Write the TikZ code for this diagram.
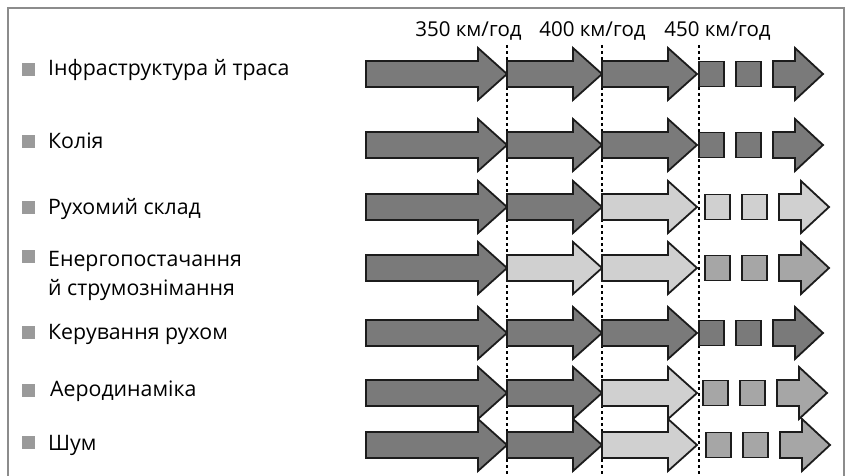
\documentclass[tikz,border=0pt]{standalone}
\usepackage{fontspec}
\setmainfont{Open Sans}
\definecolor{cD}{HTML}{7A7A7A}
\definecolor{cL}{HTML}{D0D0D0}
\definecolor{cM}{HTML}{A6A6A6}
\definecolor{cB}{HTML}{9A9A9A}
\definecolor{cO}{HTML}{1C1C1C}
\definecolor{cF}{HTML}{8C8C8C}
\newcommand\myarrow[5]{%
  \filldraw[shape box,fill=#5] (#1,#4-13)--(#2,#4-13)--(#2,#4-26)--(#3,#4)--(#2,#4+26)--(#2,#4+13)--(#1,#4+13)--cycle;}
\newcommand\mysq[3]{%
  \filldraw[shape box,fill=#3] (#1,#2-12.5) rectangle (#1+25,#2+12.5);}
% #1 y centre, #2 #3 #4 colours of main arrows, #5 colour of tail, #6 x offset of tail
\newcommand\myrow[6]{%
  \myarrow{366}{478}{507}{#1}{#2}
  \myarrow{507}{573}{602}{#1}{#3}
  \myarrow{602}{668}{697}{#1}{#4}
  \mysq{699+#6}{#1}{#5}
  \mysq{736+#6}{#1}{#5}
  \myarrow{773+#6}{795+#6}{823+#6}{#1}{#5}}
\begin{document}
\begin{tikzpicture}[x=1pt,y=-1pt,
  shape box/.style={draw=cO,line width=1.8pt,line join=miter},
  label text/.style={anchor=base west,inner sep=0pt,font=\fontsize{21.3}{24}\selectfont,text=black},
  head text/.style={anchor=base,inner sep=0pt,font=\fontsize{20.5}{24}\selectfont,text=black},
  bullet/.style={fill=cB,draw=none},
  guide/.style={draw=black,line width=1.3pt,dash pattern=on 3pt off 3pt}]
\useasboundingbox (0,0) rectangle (851,476);
\fill[white] (0,0) rectangle (851,476);
% frame
\draw[cF,line width=1.6pt] (8,480) -- (8,8) -- (844,8) -- (844,480);
% speed headings
\node[head text] (h350) at (468.5,37) {350 км/год};
\node[head text] (h400) at (592.5,37) {400 км/год};
\node[head text] (h450) at (717.5,37) {450 км/год};
% guide lines
\coordinate (g1t) at (507,45); \coordinate (g1b) at (507,480);
\coordinate (g2t) at (602,45); \coordinate (g2b) at (602,480);
\coordinate (g3t) at (699,45); \coordinate (g3b) at (699,480);
\draw[guide] (g1t) -- (g1b);
\draw[guide] (g2t) -- (g2b);
\draw[guide] (g3t) -- (g3b);
% rows
\myrow{74}{cD}{cD}{cD}{cD}{0}
\myrow{145}{cD}{cD}{cD}{cD}{0}
\myrow{207}{cD}{cD}{cL}{cL}{6}
\myrow{268}{cD}{cL}{cL}{cM}{6}
\myrow{333}{cD}{cD}{cD}{cD}{0}
\myrow{393}{cD}{cD}{cL}{cM}{4}
\myrow{445}{cD}{cD}{cL}{cM}{7}
% labels
\fill[bullet] (22,63) rectangle (35,76);
\node[label text] (l1) at (48,76) {Інфраструктура й траса};
\fill[bullet] (22,135) rectangle (35,148);
\node[label text] (l2) at (48,148) {Колія};
\fill[bullet] (22,201) rectangle (35,214);
\node[label text] (l3) at (48,214) {Рухомий склад};
\fill[bullet] (22,250) rectangle (35,263);
\node[label text] (l4a) at (48,266) {Енергопостачання};
\node[label text] (l4b) at (48,295) {й струмознімання};
\fill[bullet] (22,326) rectangle (35,339);
\node[label text] (l5) at (48,339) {Керування рухом};
\fill[bullet] (22,384) rectangle (35,397);
\node[label text] (l6) at (50,396) {Аеродинаміка};
\fill[bullet] (22,436) rectangle (35,449);
\node[label text] (l7) at (48,450) {Шум};
\end{tikzpicture}
\end{document}
